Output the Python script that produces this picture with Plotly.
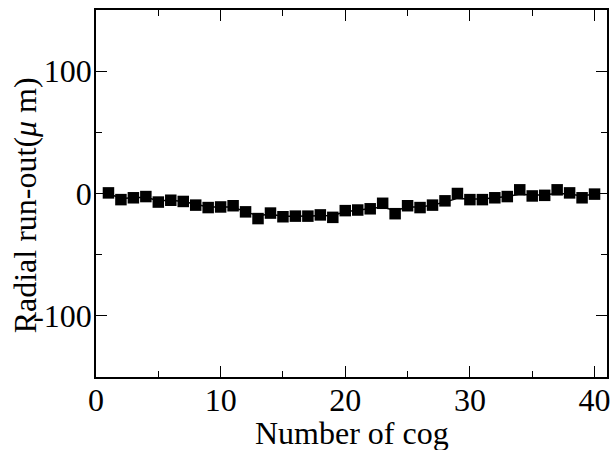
import plotly.graph_objects as go

cogs = list(range(1, 41))
runout = [0.5, -5, -3.5, -2.5, -7, -5.5, -6.5, -9.5, -11.5, -11,
          -10, -15, -20.5, -16, -19, -18.5, -18.5, -17.5, -19.5, -14,
          -13.5, -12.5, -8, -16.5, -10, -11.5, -9.5, -6, 0, -5,
          -5, -3.5, -2.5, 3, -2, -1.5, 3, 0.5, -3.5, -0.5]
trend = [0, -4, -3.5, -3, -6, -5.5, -6.5, -9, -11, -11,
         -11, -15, -18, -17, -18.5, -18.5, -18.5, -18, -18, -15,
         -13.5, -12.5, -11, -14, -11, -11, -9.5, -7, -4, -4.5,
         -4.5, -3.5, -2.5, -0.5, -1.5, -1, 0, -0.5, -2, -0.5]

x_ticks = [0, 10, 20, 30, 40]
y_ticks = [-100, 0, 100]

font_family = "Liberation Serif, Times New Roman, serif"
fsize = 32

fig = go.Figure()
fig.add_trace(go.Scatter(x=cogs, y=trend, mode="lines",
                         line=dict(color="black", width=1.5),
                         showlegend=False, hoverinfo="skip"))
fig.add_trace(go.Scatter(x=cogs, y=runout, mode="markers",
                         marker=dict(symbol="square", size=11.5, color="black",
                                     line=dict(width=0)),
                         showlegend=False))

axis_common = dict(
    showgrid=False, zeroline=False, showline=True, linecolor="black",
    linewidth=1.5, mirror="allticks", ticks="inside", tickcolor="black",
    tickwidth=1.2, ticklen=11,
    tickfont=dict(family=font_family, size=fsize, color="black"),
)

fig.update_xaxes(range=[0, 41], tickvals=x_ticks, ticktext=[str(v) for v in x_ticks],
                 minor=dict(ticks="inside", dtick=5, tick0=0, ticklen=6,
                            tickcolor="black", tickwidth=1.2),
                 ticklabelstandoff=-6,
                 **axis_common)
fig.update_yaxes(range=[-150, 150], tickvals=y_ticks, ticktext=[str(v) for v in y_ticks],
                 minor=dict(ticks="inside", dtick=50, tick0=0, ticklen=6,
                            tickcolor="black", tickwidth=1.2),
                 ticklabelstandoff=-4,
                 **axis_common)

fig.add_annotation(text="Number of cog", xref="paper", yref="paper",
                   x=0.5, y=-0.152, xanchor="center", yanchor="middle",
                   showarrow=False,
                   font=dict(family=font_family, size=fsize, color="black"))
fig.add_annotation(text="Radial run-out(<i>μ</i> m)", xref="paper", yref="paper",
                   x=-0.14, y=0.469, xanchor="center", yanchor="middle",
                   textangle=-90, showarrow=False,
                   font=dict(family=font_family, size=fsize, color="black"))

fig.update_layout(width=615, height=450,
                  margin=dict(l=96, r=5, t=10, b=73),
                  plot_bgcolor="white", paper_bgcolor="white")

fig.write_html("out.html",
               config={"displayModeBar": False},
               post_script="document.body.style.margin='0';document.body.style.overflow='hidden';")
